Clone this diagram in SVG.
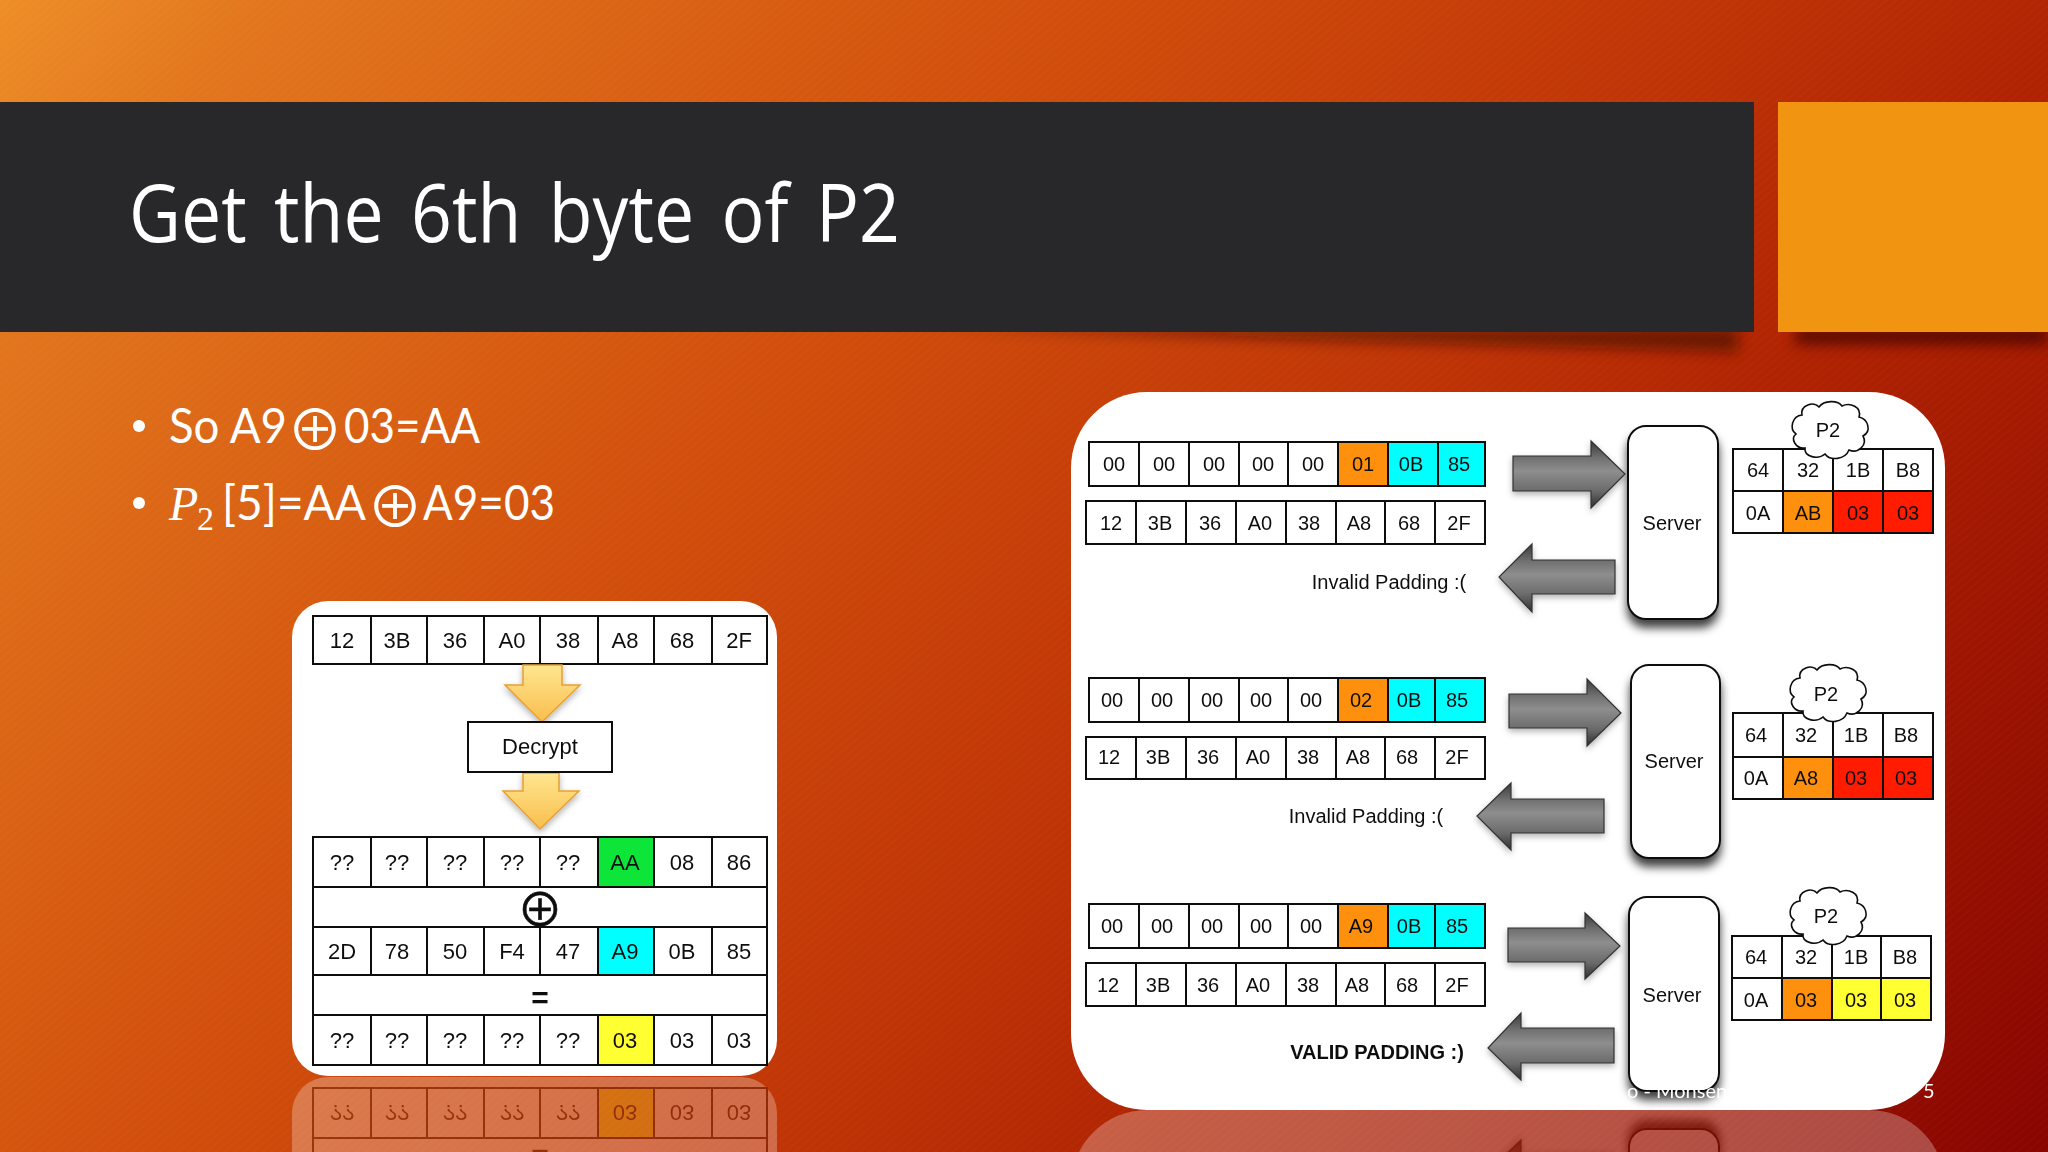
<svg xmlns="http://www.w3.org/2000/svg" width="2048" height="1152" viewBox="0 0 2048 1152">
<defs>
<linearGradient id="bg" gradientUnits="userSpaceOnUse" x1="0" y1="0" x2="1793" y2="1464">
<stop offset="0" stop-color="#EE8E28"/><stop offset=".09" stop-color="#E2761D"/><stop offset=".35" stop-color="#D2500C"/><stop offset=".58" stop-color="#BF3406"/><stop offset=".7" stop-color="#B02302"/><stop offset="1" stop-color="#880500"/>
</linearGradient>
<pattern id="hatch" width="6" height="6" patternUnits="userSpaceOnUse" patternTransform="rotate(-40)"><rect width="6" height="2" fill="#fff" opacity=".014"/></pattern>
<linearGradient id="grey" x1="0" y1="0" x2="0" y2="1"><stop offset="0" stop-color="#3a3a3a"/><stop offset=".25" stop-color="#707070"/><stop offset=".45" stop-color="#8e8e8e"/><stop offset=".75" stop-color="#6a6a6a"/><stop offset="1" stop-color="#2e2e2e"/></linearGradient>
<linearGradient id="gold" x1="0" y1="0" x2="0" y2="1"><stop offset="0" stop-color="#FFE68F"/><stop offset="1" stop-color="#F9BE4E"/></linearGradient>
<filter id="soft" x="-5%" y="-5%" width="110%" height="110%"><feGaussianBlur stdDeviation=".55"/></filter>
<filter id="blur8" x="-20%" y="-100%" width="140%" height="300%"><feGaussianBlur stdDeviation="7"/></filter>
<filter id="sh" x="-30%" y="-30%" width="160%" height="160%"><feDropShadow dx="0" dy="8" stdDeviation="5" flood-color="#000" flood-opacity=".75"/></filter>
<filter id="sh2" x="-30%" y="-30%" width="160%" height="160%"><feDropShadow dx="0" dy="3" stdDeviation="3" flood-color="#000" flood-opacity=".3"/></filter>
<path id="cloud" d="M14,14 C12,4 26,0 31,6 C36,-1 50,-1 54,5 C62,1 74,6 71,16 C80,18 84,30 75,35 C80,44 70,53 61,49 C57,59 42,60 37,53 C30,59 16,56 17,47 C8,48 2,38 8,33 C1,28 4,15 14,14 Z" fill="#fff" stroke="#111" stroke-width="1.6"/>
<style>
.c{fill:#fff;stroke:#111;stroke-width:2}
.o{fill:#FF9010;stroke:#111;stroke-width:2}
.y{fill:#00FFFF;stroke:#111;stroke-width:2}
.r{fill:#FF1A00;stroke:#111;stroke-width:2}
.l{fill:#FFFF33;stroke:#111;stroke-width:2}
.g{fill:#10E638;stroke:#111;stroke-width:2}
.t{font-family:"Liberation Sans",Arial,sans-serif;font-size:20px;text-anchor:middle;fill:#111}
.b{font-family:"Liberation Sans",Arial,sans-serif;font-size:22px;text-anchor:middle;fill:#111}
.w{font-family:Lato,"Open Sans",sans-serif;font-size:48px;fill:#fff}
.x{font-family:"Noto Sans CJK SC",sans-serif;text-anchor:middle}
.ar{fill:url(#grey);stroke:#333;stroke-width:1.2;filter:url(#sh2)}
.ya{fill:url(#gold);stroke:#E8A030;stroke-width:1.5;filter:url(#sh2)}
.sv{fill:#fff;stroke:#111;stroke-width:2;filter:url(#sh)}
</style>
</defs>
<rect id="background" width="2048" height="1152" fill="url(#bg)"/>
<rect width="2048" height="1152" fill="url(#hatch)"/>

<g id="shadows">
<path d="M950,328 L1738,328 L1738,352 L1300,340 Z" fill="#3a0d00" opacity=".6" filter="url(#blur8)"/>
<path d="M1795,328 H2048 V344 H1795 Z" fill="#3a0500" opacity=".75" filter="url(#blur8)"/>
</g>
<g id="title-band"><rect x="0" y="102" width="1754" height="230" fill="#28282A"/>
<text x="129" y="242" font-family="'Open Sans','Noto Sans',sans-serif" font-size="80" fill="#fff" word-spacing="10" textLength="771" lengthAdjust="spacingAndGlyphs">Get the 6th byte of P2</text></g>
<rect id="accent-square" x="1778" y="102" width="270" height="230" fill="#F09412"/>

<g id="bullets">
<circle cx="139" cy="426" r="6" fill="#fff"/>
<text class="w" x="169" y="443" textLength="118" lengthAdjust="spacingAndGlyphs">So A9</text>
<text class="x" x="315" y="450" font-size="56" fill="#fff">⊕</text>
<text class="w" x="344" y="443" textLength="136" lengthAdjust="spacingAndGlyphs">03=AA</text>
<circle cx="139" cy="503" r="6" fill="#fff"/>
<text x="169" y="520" font-family="'Liberation Serif',serif" font-style="italic" font-size="48" fill="#fff">P</text>
<text x="197" y="530" font-family="'Liberation Serif',serif" font-size="34" fill="#fff">2</text>
<text class="w" x="222" y="520" textLength="144" lengthAdjust="spacingAndGlyphs">[5]=AA</text>
<text class="x" x="395" y="527" font-size="56" fill="#fff">⊕</text>
<text class="w" x="423" y="520" textLength="132" lengthAdjust="spacingAndGlyphs">A9=03</text>
</g>

<use href="#left-panel" transform="matrix(1 0 0 -1 0 2153)" opacity=".27"/>
<use href="#right-panel" transform="matrix(1 0 0 -1 0 2220)" opacity=".27"/>

<g id="left-panel">
<rect x="292" y="601" width="485" height="475" rx="36" fill="#fff"/>
<g filter="url(#soft)">
<g id="left-row-ciphertext">
<rect class="c" x="313" y="616" width="58" height="48"/><rect class="c" x="371" y="616" width="56" height="48"/><rect class="c" x="427" y="616" width="57" height="48"/><rect class="c" x="484" y="616" width="56" height="48"/><rect class="c" x="540" y="616" width="58" height="48"/><rect class="c" x="598" y="616" width="56" height="48"/><rect class="c" x="654" y="616" width="58" height="48"/><rect class="c" x="712" y="616" width="55" height="48"/>
<text class="b" x="342" y="648">12</text><text class="b" x="397" y="648">3B</text><text class="b" x="455" y="648">36</text><text class="b" x="512" y="648">A0</text><text class="b" x="568" y="648">38</text><text class="b" x="625" y="648">A8</text><text class="b" x="682" y="648">68</text><text class="b" x="739" y="648">2F</text>
</g>
<g id="left-connectors">
<path class="ya" d="M523,665 H562 V685 H580 L542,722 L505,685 H523 Z"/>
<path class="ya" d="M523,773 H559 V791 H579 L540,829 L503,791 H523 Z"/>
</g>
<g id="decrypt"><rect class="c" x="468" y="722" width="144" height="50"/><text class="b" x="540" y="754">Decrypt</text></g>
<g id="left-row-intermediate">
<rect class="c" x="313" y="837" width="454" height="228"/>
<rect class="c" x="313" y="837" width="58" height="50"/><rect class="c" x="371" y="837" width="56" height="50"/><rect class="c" x="427" y="837" width="57" height="50"/><rect class="c" x="484" y="837" width="56" height="50"/><rect class="c" x="540" y="837" width="58" height="50"/><rect class="g" x="598" y="837" width="56" height="50"/><rect class="c" x="654" y="837" width="58" height="50"/><rect class="c" x="712" y="837" width="55" height="50"/>
<text class="b" x="342" y="870">??</text><text class="b" x="397" y="870">??</text><text class="b" x="455" y="870">??</text><text class="b" x="512" y="870">??</text><text class="b" x="568" y="870">??</text><text class="b" x="625" y="870">AA</text><text class="b" x="682" y="870">08</text><text class="b" x="739" y="870">86</text>
</g>
<text class="x" x="540" y="926" font-size="46" fill="#111" stroke="#111" stroke-width=".6">⊕</text>
<g id="left-row-previous">
<rect class="c" x="313" y="927" width="58" height="48"/><rect class="c" x="371" y="927" width="56" height="48"/><rect class="c" x="427" y="927" width="57" height="48"/><rect class="c" x="484" y="927" width="56" height="48"/><rect class="c" x="540" y="927" width="58" height="48"/><rect class="y" x="598" y="927" width="56" height="48"/><rect class="c" x="654" y="927" width="58" height="48"/><rect class="c" x="712" y="927" width="55" height="48"/>
<text class="b" x="342" y="959">2D</text><text class="b" x="397" y="959">78</text><text class="b" x="455" y="959">50</text><text class="b" x="512" y="959">F4</text><text class="b" x="568" y="959">47</text><text class="b" x="625" y="959">A9</text><text class="b" x="682" y="959">0B</text><text class="b" x="739" y="959">85</text>
</g>
<text x="540" y="1008" font-family="'Liberation Sans',sans-serif" font-weight="bold" font-size="30" text-anchor="middle" fill="#111">=</text>
<g id="left-row-plain">
<rect class="c" x="313" y="1015" width="58" height="50"/><rect class="c" x="371" y="1015" width="56" height="50"/><rect class="c" x="427" y="1015" width="57" height="50"/><rect class="c" x="484" y="1015" width="56" height="50"/><rect class="c" x="540" y="1015" width="58" height="50"/><rect class="l" x="598" y="1015" width="56" height="50"/><rect class="c" x="654" y="1015" width="58" height="50"/><rect class="c" x="712" y="1015" width="55" height="50"/>
<text class="b" x="342" y="1048">??</text><text class="b" x="397" y="1048">??</text><text class="b" x="455" y="1048">??</text><text class="b" x="512" y="1048">??</text><text class="b" x="568" y="1048">??</text><text class="b" x="625" y="1048">03</text><text class="b" x="682" y="1048">03</text><text class="b" x="739" y="1048">03</text>
</g>
</g>
</g>

<g id="right-panel">
<rect x="1071" y="392" width="874" height="718" rx="76" fill="#fff"/>
<g filter="url(#soft)">
<g id="step1">
<g id="s1-row1">
<rect class="c" x="1089" y="442" width="50" height="44"/><rect class="c" x="1139" y="442" width="50" height="44"/><rect class="c" x="1189" y="442" width="50" height="44"/><rect class="c" x="1239" y="442" width="49" height="44"/><rect class="c" x="1288" y="442" width="50" height="44"/><rect class="o" x="1338" y="442" width="50" height="44"/><rect class="y" x="1388" y="442" width="50" height="44"/><rect class="y" x="1438" y="442" width="47" height="44"/>
<text class="t" x="1114" y="471">00</text><text class="t" x="1164" y="471">00</text><text class="t" x="1214" y="471">00</text><text class="t" x="1263" y="471">00</text><text class="t" x="1313" y="471">00</text><text class="t" x="1363" y="471">01</text><text class="t" x="1411" y="471">0B</text><text class="t" x="1459" y="471">85</text>
</g>
<g id="s1-row2">
<rect class="c" x="1086" y="501" width="50" height="43"/><rect class="c" x="1136" y="501" width="50" height="43"/><rect class="c" x="1186" y="501" width="50" height="43"/><rect class="c" x="1236" y="501" width="50" height="43"/><rect class="c" x="1286" y="501" width="50" height="43"/><rect class="c" x="1336" y="501" width="49" height="43"/><rect class="c" x="1385" y="501" width="50" height="43"/><rect class="c" x="1435" y="501" width="50" height="43"/>
<text class="t" x="1111" y="530">12</text><text class="t" x="1160" y="530">3B</text><text class="t" x="1210" y="530">36</text><text class="t" x="1260" y="530">A0</text><text class="t" x="1309" y="530">38</text><text class="t" x="1359" y="530">A8</text><text class="t" x="1409" y="530">68</text><text class="t" x="1459" y="530">2F</text>
</g>
<text class="t" x="1389" y="589">Invalid Padding :(</text>
<g id="s1-server"><rect class="sv" x="1628" y="426" width="90" height="193" rx="18"/><text class="t" x="1672" y="530">Server</text></g>
<g id="s1-table">
<rect class="c" x="1733" y="449" width="50" height="42"/><rect class="c" x="1783" y="449" width="50" height="42"/><rect class="c" x="1833" y="449" width="50" height="42"/><rect class="c" x="1883" y="449" width="50" height="42"/>
<rect class="c" x="1733" y="491" width="50" height="42"/><rect class="o" x="1783" y="491" width="50" height="42"/><rect class="r" x="1833" y="491" width="50" height="42"/><rect class="r" x="1883" y="491" width="50" height="42"/>
<text class="t" x="1758" y="477">64</text><text class="t" x="1808" y="477">32</text><text class="t" x="1858" y="477">1B</text><text class="t" x="1908" y="477">B8</text>
<text class="t" x="1758" y="520">0A</text><text class="t" x="1808" y="520">AB</text><text class="t" x="1858" y="520">03</text><text class="t" x="1908" y="520">03</text>
</g>
<g id="s1-cloud"><use href="#cloud" x="1788" y="401"/><text class="t" x="1828" y="437">P2</text></g>
</g>
<g id="step2">
<g id="s2-row1">
<rect class="c" x="1089" y="678" width="50" height="44"/><rect class="c" x="1139" y="678" width="50" height="44"/><rect class="c" x="1189" y="678" width="50" height="44"/><rect class="c" x="1239" y="678" width="49" height="44"/><rect class="c" x="1288" y="678" width="50" height="44"/><rect class="o" x="1338" y="678" width="50" height="44"/><rect class="y" x="1388" y="678" width="47" height="44"/><rect class="y" x="1435" y="678" width="50" height="44"/>
<text class="t" x="1112" y="707">00</text><text class="t" x="1162" y="707">00</text><text class="t" x="1212" y="707">00</text><text class="t" x="1261" y="707">00</text><text class="t" x="1311" y="707">00</text><text class="t" x="1361" y="707">02</text><text class="t" x="1409" y="707">0B</text><text class="t" x="1457" y="707">85</text>
</g>
<g id="s2-row2">
<rect class="c" x="1086" y="737" width="50" height="42"/><rect class="c" x="1136" y="737" width="50" height="42"/><rect class="c" x="1186" y="737" width="50" height="42"/><rect class="c" x="1236" y="737" width="50" height="42"/><rect class="c" x="1286" y="737" width="50" height="42"/><rect class="c" x="1336" y="737" width="49" height="42"/><rect class="c" x="1385" y="737" width="50" height="42"/><rect class="c" x="1435" y="737" width="50" height="42"/>
<text class="t" x="1109" y="764">12</text><text class="t" x="1158" y="764">3B</text><text class="t" x="1208" y="764">36</text><text class="t" x="1258" y="764">A0</text><text class="t" x="1308" y="764">38</text><text class="t" x="1358" y="764">A8</text><text class="t" x="1407" y="764">68</text><text class="t" x="1457" y="764">2F</text>
</g>
<text class="t" x="1366" y="823">Invalid Padding :(</text>
<g id="s2-server"><rect class="sv" x="1631" y="665" width="89" height="193" rx="18"/><text class="t" x="1674" y="768">Server</text></g>
<g id="s2-table">
<rect class="c" x="1733" y="713" width="50" height="44"/><rect class="c" x="1783" y="713" width="50" height="44"/><rect class="c" x="1833" y="713" width="50" height="44"/><rect class="c" x="1883" y="713" width="50" height="44"/>
<rect class="c" x="1733" y="757" width="50" height="42"/><rect class="o" x="1783" y="757" width="50" height="42"/><rect class="r" x="1833" y="757" width="50" height="42"/><rect class="r" x="1883" y="757" width="50" height="42"/>
<text class="t" x="1756" y="742">64</text><text class="t" x="1806" y="742">32</text><text class="t" x="1856" y="742">1B</text><text class="t" x="1906" y="742">B8</text>
<text class="t" x="1756" y="785">0A</text><text class="t" x="1806" y="785">A8</text><text class="t" x="1856" y="785">03</text><text class="t" x="1906" y="785">03</text>
</g>
<g id="s2-cloud"><use href="#cloud" x="1786" y="664"/><text class="t" x="1826" y="701">P2</text></g>
</g>
<g id="step3">
<g id="s3-row1">
<rect class="c" x="1089" y="904" width="50" height="44"/><rect class="c" x="1139" y="904" width="50" height="44"/><rect class="c" x="1189" y="904" width="50" height="44"/><rect class="c" x="1239" y="904" width="49" height="44"/><rect class="c" x="1288" y="904" width="50" height="44"/><rect class="o" x="1338" y="904" width="50" height="44"/><rect class="y" x="1388" y="904" width="47" height="44"/><rect class="y" x="1435" y="904" width="50" height="44"/>
<text class="t" x="1112" y="933">00</text><text class="t" x="1162" y="933">00</text><text class="t" x="1212" y="933">00</text><text class="t" x="1261" y="933">00</text><text class="t" x="1311" y="933">00</text><text class="t" x="1361" y="933">A9</text><text class="t" x="1409" y="933">0B</text><text class="t" x="1457" y="933">85</text>
</g>
<g id="s3-row2">
<rect class="c" x="1086" y="963" width="50" height="43"/><rect class="c" x="1136" y="963" width="50" height="43"/><rect class="c" x="1186" y="963" width="50" height="43"/><rect class="c" x="1236" y="963" width="50" height="43"/><rect class="c" x="1286" y="963" width="50" height="43"/><rect class="c" x="1336" y="963" width="49" height="43"/><rect class="c" x="1385" y="963" width="50" height="43"/><rect class="c" x="1435" y="963" width="50" height="43"/>
<text class="t" x="1108" y="992">12</text><text class="t" x="1158" y="992">3B</text><text class="t" x="1208" y="992">36</text><text class="t" x="1258" y="992">A0</text><text class="t" x="1308" y="992">38</text><text class="t" x="1357" y="992">A8</text><text class="t" x="1407" y="992">68</text><text class="t" x="1457" y="992">2F</text>
</g>
<text class="t" x="1377" y="1059" font-weight="bold">VALID PADDING :)</text>
<g id="s3-server"><rect class="sv" x="1629" y="897" width="90" height="194" rx="18"/><text class="t" x="1672" y="1002">Server</text></g>
<g id="s3-table">
<rect class="c" x="1732" y="936" width="50" height="42"/><rect class="c" x="1782" y="936" width="50" height="42"/><rect class="c" x="1832" y="936" width="49" height="42"/><rect class="c" x="1881" y="936" width="50" height="42"/>
<rect class="c" x="1732" y="978" width="50" height="42"/><rect class="o" x="1782" y="978" width="50" height="42"/><rect class="l" x="1832" y="978" width="49" height="42"/><rect class="l" x="1881" y="978" width="50" height="42"/>
<text class="t" x="1756" y="964">64</text><text class="t" x="1806" y="964">32</text><text class="t" x="1856" y="964">1B</text><text class="t" x="1905" y="964">B8</text>
<text class="t" x="1756" y="1007">0A</text><text class="t" x="1806" y="1007">03</text><text class="t" x="1856" y="1007">03</text><text class="t" x="1905" y="1007">03</text>
</g>
<g id="s3-cloud"><use href="#cloud" x="1786" y="887"/><text class="t" x="1826" y="923">P2</text></g>
</g>
<g id="connectors">
<path class="ar" d="M1513,456 H1591 V441 L1625,474 L1591,508 V491 H1513 Z"/>
<path class="ar" d="M1615,560 H1532 V544 L1499,577 L1532,612 V594 H1615 Z"/>
<path class="ar" d="M1509,694 H1587 V679 L1621,713 L1587,746 V728 H1509 Z"/>
<path class="ar" d="M1604,799 H1511 V783 L1477,816 L1511,850 V833 H1604 Z"/>
<path class="ar" d="M1508,928 H1585 V913 L1620,946 L1585,979 V962 H1508 Z"/>
<path class="ar" d="M1614,1028 H1521 V1013 L1488,1048 L1521,1080 V1063 H1614 Z"/>
</g>
</g>
</g>

<g id="footer" font-family="Lato,'Open Sans',sans-serif" font-size="20" fill="#fff">
<text x="1627" y="1098">o - Monsen</text>
<text x="1923" y="1098">5</text>
</g>
</svg>
